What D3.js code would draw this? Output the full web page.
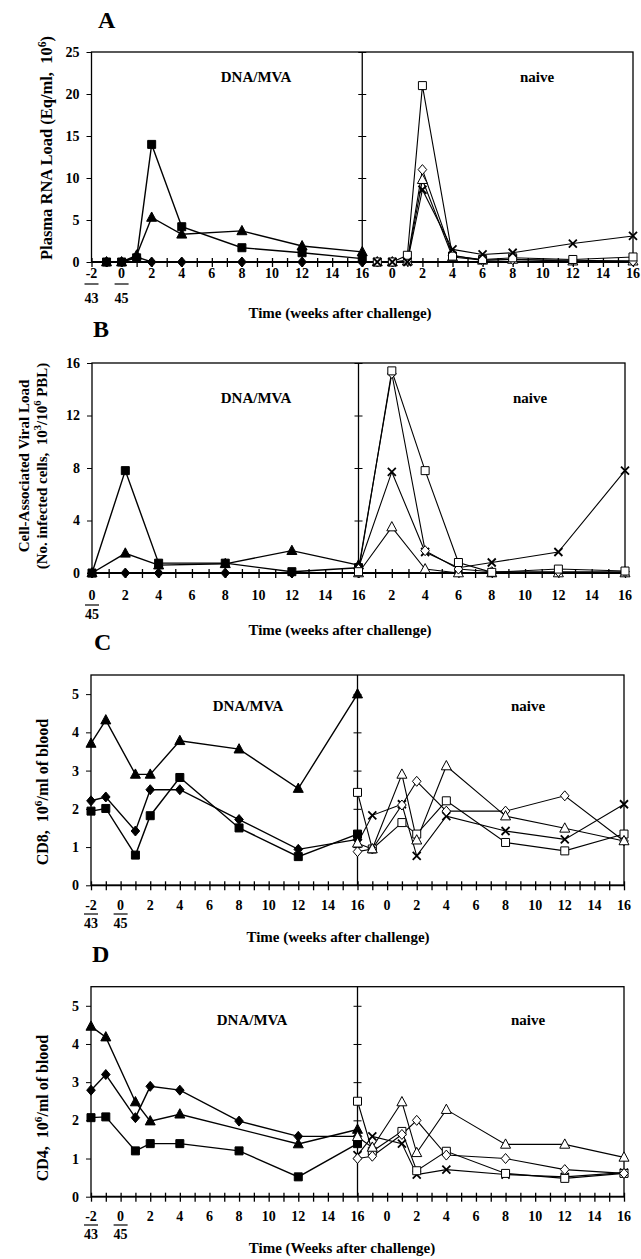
<!DOCTYPE html>
<html>
<head>
<meta charset="utf-8">
<script src="https://cdn.jsdelivr.net/npm/d3@7"></script>
<style>
body { margin: 0; background: #fff; }
text { font-family: "Liberation Serif", "Times New Roman", serif; font-weight: bold; fill: #000; }
</style>
</head>
<body>
<svg id="chart" width="641" height="1259" viewBox="0 0 641 1259"></svg>
<script>
// ---------- data ----------
// A: plasma RNA load, Eq/ml x 10^6
const aVacWeeks = [-1, 0, 1, 2, 4, 8, 12, 16]
const aVacSquare = [0, 0, 0.5, 14, 4.2, 1.7, 1.1, 0.4]
const aVacTriangle = [0, 0, 0.8, 5.3, 3.3, 3.7, 1.9, 1.2]
const aVacDiamond = [0, 0, 0.6, 0, 0, 0, 0, 0]
const aNaiveWeeks = [-1, 0, 1, 2, 4, 6, 8, 12, 16]
const aNaiveSquare = [0, 0, 0.8, 21, 0.7, 0.3, 0.5, 0.3, 0.6]
const aNaiveDiamond = [0, 0, 0.2, 11, 0.8, 0.2, 0.3, 0.2, 0.1]
const aNaiveTriangle = [0, 0, 0.1, 9.8, 0.6, 0.2, 0.3, 0.1, 0.1]
const aNaiveCross = [0, 0, 0, 8.6, 1.5, 0.9, 1.1, 2.2, 3.1]

// B: cell-associated viral load, 10^3 / 10^6 PBL
const bVacWeeks = [0, 2, 4, 8, 12, 16]
const bVacSquare = [0, 7.8, 0.75, 0.75, 0.1, 0.4]
const bVacTriangle = [0, 1.5, 0.6, 0.7, 1.7, 0.6]
const bVacDiamond = [0, 0, 0, 0, 0, 0]
const bNaiveWeeks = [0, 2, 4, 6, 8, 12, 16]
const bNaiveSquare = [0.1, 15.4, 7.8, 0.8, 0.05, 0.3, 0.15]
const bNaiveDiamond = [0.3, 15.2, 1.7, 0.3, 0.1, 0.1, 0.1]
const bNaiveTriangle = [0, 3.5, 0.3, 0, 0, 0, 0]
const bNaiveCross = [0.4, 7.7, 1.6, 0.4, 0.8, 1.6, 7.8]

// C: CD8, 10^6/ml of blood
const cVacWeeks = [-2, -1, 1, 2, 4, 8, 12, 16]
const cVacTriangle = [3.71, 4.32, 2.9, 2.9, 3.78, 3.56, 2.53, 5.0]
const cVacDiamond = [2.21, 2.31, 1.42, 2.5, 2.5, 1.72, 0.94, 1.2]
const cVacSquare = [1.94, 2.01, 0.79, 1.82, 2.82, 1.5, 0.75, 1.34]
const cNaiveWeeks = [-2, -1, 1, 2, 4, 8, 12, 16]
const cNaiveSquare = [2.43, 0.95, 1.64, 1.34, 2.21, 1.12, 0.9, 1.34]
const cNaiveDiamond = [0.88, 0.95, 2.1, 2.72, 1.94, 1.94, 2.34, 1.16]
const cNaiveTriangle = [1.1, 0.95, 2.9, 1.18, 3.12, 1.81, 1.49, 1.16]
const cNaiveCross = [1.1, 1.83, 2.12, 0.77, 1.81, 1.42, 1.2, 2.12]

// D: CD4, 10^6/ml of blood
const dVacWeeks = [-2, -1, 1, 2, 4, 8, 12, 16]
const dVacTriangle = [4.46, 4.18, 2.48, 1.98, 2.16, null, 1.38, 1.76]
const dVacDiamond = [2.79, 3.2, 2.07, 2.89, 2.79, 1.98, 1.58, 1.58]
const dVacSquare = [2.07, 2.09, 1.2, 1.39, 1.39, 1.2, 0.52, 1.39]
const dNaiveWeeks = [-2, -1, 1, 2, 4, 8, 12, 16]
const dNaiveSquare = [2.5, 1.19, 1.71, 0.68, 1.19, 0.61, 0.48, 0.61]
const dNaiveDiamond = [1.0, 1.06, 1.63, 2.0, 1.09, 1.0, 0.71, 0.61]
const dNaiveTriangle = [1.57, 1.29, 2.48, 1.15, 2.28, 1.37, 1.37, 1.03]
const dNaiveCross = [1.09, 1.58, 1.39, 0.58, 0.71, 0.58, 0.52, 0.63]

// tick labels
const ticksWide = [-2, 0, 2, 4, 6, 8, 10, 12, 14, 16]   // A, C, D left half
const ticksNaive = [0, 2, 4, 6, 8, 10, 12, 14, 16]      // A, C, D right half
const ticksBLeft = [0, 2, 4, 6, 8, 10, 12, 14, 16]
const ticksBRight = [2, 4, 6, 8, 10, 12, 14, 16]
const subWide = {"-2": "43", "0": "45"}
const subB = {"0": "45"}
const yTicksA = [0, 5, 10, 15, 20, 25]
const yTicksB = [0, 4, 8, 12, 16]
const yTicksCD = [0, 1, 2, 3, 4, 5]

const svg = d3.select("#chart")
const sp = "\u00a0"

// marker shapes
function shapePath(shape) {
    switch (shape) {
        case "square": return "M-4,-4h8v8h-8Z"
        case "triangle": return "M0,-5.5L5,3.8L-5,3.8Z"
        case "diamond": return "M0,-5L4.3,0L0,5L-4.3,0Z"
        case "cross": return "M-4,-4L4,4M4,-4L-4,4"
    }
}

function drawPanel(cfg, series) {
    const g = svg.append("g")
    const x = d3.scaleLinear().domain([0, cfg.span]).range([cfg.x0, cfg.x1])
    const y = d3.scaleLinear().domain([0, cfg.yMax]).range([cfg.bottom, cfg.top])
    const pos = (side, w) => side === "vac" ? w + cfg.leftOffset : w + cfg.rightOffset

    // frame and divider
    g.append("rect")
        .attr("x", cfg.x0).attr("y", cfg.top)
        .attr("width", cfg.x1 - cfg.x0).attr("height", cfg.bottom - cfg.top)
        .attr("fill", "none").attr("stroke", "#000").attr("stroke-width", 1.3)
    g.append("line")
        .attr("x1", x(cfg.split)).attr("x2", x(cfg.split))
        .attr("y1", cfg.top).attr("y2", cfg.bottom)
        .attr("stroke", "#000").attr("stroke-width", 1.3)

    // y axis (left) and divider ticks
    g.append("g")
        .attr("transform", `translate(${cfg.x0},0)`)
        .call(d3.axisLeft(y).tickValues(cfg.yTicks).tickFormat(d3.format("d")).tickSize(5).tickPadding(7))
        .call(a => a.select(".domain").remove())
        .call(a => a.selectAll("text").attr("font-size", 14).attr("font-family", null))
    g.append("g")
        .attr("transform", `translate(${x(cfg.split) + 4},0)`)
        .call(d3.axisLeft(y).tickValues(cfg.yTicks.slice(1)).tickSize(8).tickFormat(""))
        .call(a => a.select(".domain").remove())

    // x axis minor ticks, crossing the axis line
    const weeks = d3.range(0, cfg.span + 1)
    g.append("g")
        .attr("transform", `translate(0,${cfg.bottom - 4})`)
        .call(d3.axisBottom(x).tickValues(weeks).tickSize(9).tickFormat(""))
        .call(a => a.select(".domain").remove())
        .call(a => a.selectAll("line").attr("stroke-width", 1.3))
    g.append("line")
        .attr("x1", cfg.x0).attr("x2", cfg.x1)
        .attr("y1", cfg.bottom).attr("y2", cfg.bottom)
        .attr("stroke", "#000").attr("stroke-width", 1.8)

    // x tick labels
    const labels = cfg.leftTicks.map(t => ({p: pos("vac", t), t}))
        .concat(cfg.rightTicks.map(t => ({p: pos("naive", t), t})))
    g.selectAll(".xl").data(labels).enter().append("text")
        .attr("x", d => x(d.p)).attr("y", cfg.labelY)
        .attr("text-anchor", "middle").attr("font-size", 14)
        .text(d => d.t)
    cfg.leftTicks.filter(t => cfg.sub[t] !== undefined).forEach(t => {
        const cx = x(pos("vac", t))
        g.append("line")
            .attr("x1", cx - 7).attr("x2", cx + 7)
            .attr("y1", cfg.barY).attr("y2", cfg.barY)
            .attr("stroke", "#000").attr("stroke-width", 1.2)
        g.append("text")
            .attr("x", cx).attr("y", cfg.subY)
            .attr("text-anchor", "middle").attr("font-size", 14)
            .text(cfg.sub[t])
    })

    // titles
    g.append("text").attr("x", cfg.letterX).attr("y", cfg.letterY)
        .attr("font-size", 24).text(cfg.letter)
    g.append("text").attr("x", cfg.titleX).attr("y", cfg.titleY)
        .attr("text-anchor", "middle").attr("font-size", 15).text(cfg.xTitle)
    g.append("text").attr("x", cfg.groupX[0]).attr("y", cfg.groupY)
        .attr("text-anchor", "middle").attr("font-size", 15).text("DNA/MVA")
    g.append("text").attr("x", cfg.groupX[1]).attr("y", cfg.groupY)
        .attr("text-anchor", "middle").attr("font-size", 15).text("naive")

    cfg.yTitle.forEach((lineParts, i) => {
        const t = g.append("text")
            .attr("transform", `translate(${cfg.yTitleX[i]},${cfg.yTitleY}) rotate(-90)`)
            .attr("text-anchor", "middle").attr("font-size", cfg.yTitleSize)
        let raised = false
        lineParts.forEach(part => {
            if (part.sup) {
                t.append("tspan").attr("font-size", cfg.yTitleSize * 0.7)
                    .attr("dy", raised ? 0 : -6).text(part.sup)
                raised = true
            } else {
                t.append("tspan").attr("dy", raised ? 6 : 0).text(part.s)
                raised = false
            }
        })
    })

    // series
    const line = d3.line().x(d => x(d.p)).y(d => y(d.v))
    series.forEach(s => {
        const pts = s.weeks.map((w, i) => ({p: pos(s.side, w), v: s.values[i]}))
            .filter(d => d.v !== null)
        g.append("path").datum(pts)
            .attr("d", line).attr("fill", "none")
            .attr("stroke", "#000").attr("stroke-width", s.side === "vac" ? 1.4 : 1.1)
    })
    series.forEach(s => {
        const pts = s.weeks.map((w, i) => ({p: pos(s.side, w), v: s.values[i]}))
            .filter(d => d.v !== null)
        g.selectAll(null).data(pts).enter().append("path")
            .attr("transform", d => `translate(${x(d.p)},${y(d.v)})`)
            .attr("d", shapePath(s.shape))
            .attr("fill", s.shape === "cross" ? "none" : (s.side === "vac" ? "#000" : "#fff"))
            .attr("stroke", "#000")
            .attr("stroke-width", s.shape === "cross" ? 1.8 : 1)
    })
}

const timeTitle = "Time (weeks after challenge)"

drawPanel({
    letter: "A", letterX: 98, letterY: 28,
    x0: 91.5, x1: 633, top: 52, bottom: 262, yMax: 25, yTicks: yTicksA,
    span: 36, split: 18, leftOffset: 2, rightOffset: 20,
    leftTicks: ticksWide, rightTicks: ticksNaive, sub: subWide,
    labelY: 278, barY: 284, subY: 303, titleX: 340, titleY: 318, xTitle: timeTitle,
    groupX: [256, 537], groupY: 82,
    yTitle: [[{s: "Plasma RNA Load (Eq/ml," + sp + sp + "10"}, {sup: "6"}, {s: ")"}]],
    yTitleX: [52], yTitleY: 148, yTitleSize: 16.5
}, [
    {side: "vac", shape: "diamond", weeks: aVacWeeks, values: aVacDiamond},
    {side: "vac", shape: "triangle", weeks: aVacWeeks, values: aVacTriangle},
    {side: "vac", shape: "square", weeks: aVacWeeks, values: aVacSquare},
    {side: "naive", shape: "triangle", weeks: aNaiveWeeks, values: aNaiveTriangle},
    {side: "naive", shape: "diamond", weeks: aNaiveWeeks, values: aNaiveDiamond},
    {side: "naive", shape: "square", weeks: aNaiveWeeks, values: aNaiveSquare},
    {side: "naive", shape: "cross", weeks: aNaiveWeeks, values: aNaiveCross}
])

drawPanel({
    letter: "B", letterX: 93, letterY: 337,
    x0: 92, x1: 625, top: 363, bottom: 573, yMax: 16, yTicks: yTicksB,
    span: 32, split: 16, leftOffset: 0, rightOffset: 16,
    leftTicks: ticksBLeft, rightTicks: ticksBRight, sub: subB,
    labelY: 600, barY: 605, subY: 619, titleX: 340, titleY: 635, xTitle: timeTitle,
    groupX: [256, 530], groupY: 403,
    yTitle: [[{s: "Cell-Associated Viral Load"}],
             [{s: "(No. infected cells," + sp + sp + "10"}, {sup: "3"}, {s: "/10"}, {sup: "6"}, {s: " PBL)"}]],
    yTitleX: [29, 47], yTitleY: 466, yTitleSize: 15
}, [
    {side: "vac", shape: "diamond", weeks: bVacWeeks, values: bVacDiamond},
    {side: "vac", shape: "triangle", weeks: bVacWeeks, values: bVacTriangle},
    {side: "vac", shape: "square", weeks: bVacWeeks, values: bVacSquare},
    {side: "naive", shape: "cross", weeks: bNaiveWeeks, values: bNaiveCross},
    {side: "naive", shape: "triangle", weeks: bNaiveWeeks, values: bNaiveTriangle},
    {side: "naive", shape: "diamond", weeks: bNaiveWeeks, values: bNaiveDiamond},
    {side: "naive", shape: "square", weeks: bNaiveWeeks, values: bNaiveSquare}
])

drawPanel({
    letter: "C", letterX: 94, letterY: 650,
    x0: 91, x1: 624, top: 675, bottom: 885.3, yMax: 5.5, yTicks: yTicksCD,
    span: 36, split: 18, leftOffset: 2, rightOffset: 20,
    leftTicks: ticksWide, rightTicks: ticksNaive, sub: subWide,
    labelY: 910, barY: 914, subY: 928, titleX: 338, titleY: 942, xTitle: timeTitle,
    groupX: [248, 528], groupY: 711,
    yTitle: [[{s: "CD8," + sp + sp + "10"}, {sup: "6"}, {s: "/ml of blood"}]],
    yTitleX: [48], yTitleY: 792, yTitleSize: 16
}, [
    {side: "vac", shape: "square", weeks: cVacWeeks, values: cVacSquare},
    {side: "vac", shape: "diamond", weeks: cVacWeeks, values: cVacDiamond},
    {side: "vac", shape: "triangle", weeks: cVacWeeks, values: cVacTriangle},
    {side: "naive", shape: "cross", weeks: cNaiveWeeks, values: cNaiveCross},
    {side: "naive", shape: "square", weeks: cNaiveWeeks, values: cNaiveSquare},
    {side: "naive", shape: "diamond", weeks: cNaiveWeeks, values: cNaiveDiamond},
    {side: "naive", shape: "triangle", weeks: cNaiveWeeks, values: cNaiveTriangle}
])

drawPanel({
    letter: "D", letterX: 92, letterY: 962,
    x0: 91, x1: 624, top: 986.7, bottom: 1196.7, yMax: 5.5, yTicks: yTicksCD,
    span: 36, split: 18, leftOffset: 2, rightOffset: 20,
    leftTicks: ticksWide, rightTicks: ticksNaive, sub: subWide,
    labelY: 1221, barY: 1225, subY: 1239, titleX: 342, titleY: 1253, xTitle: "Time (Weeks after challenge)",
    groupX: [252, 528], groupY: 1025,
    yTitle: [[{s: "CD4," + sp + sp + "10"}, {sup: "6"}, {s: "/ml of blood"}]],
    yTitleX: [48], yTitleY: 1108, yTitleSize: 16
}, [
    {side: "vac", shape: "square", weeks: dVacWeeks, values: dVacSquare},
    {side: "vac", shape: "diamond", weeks: dVacWeeks, values: dVacDiamond},
    {side: "vac", shape: "triangle", weeks: dVacWeeks, values: dVacTriangle},
    {side: "naive", shape: "cross", weeks: dNaiveWeeks, values: dNaiveCross},
    {side: "naive", shape: "square", weeks: dNaiveWeeks, values: dNaiveSquare},
    {side: "naive", shape: "diamond", weeks: dNaiveWeeks, values: dNaiveDiamond},
    {side: "naive", shape: "triangle", weeks: dNaiveWeeks, values: dNaiveTriangle}
])
</script>
</body>
</html>
